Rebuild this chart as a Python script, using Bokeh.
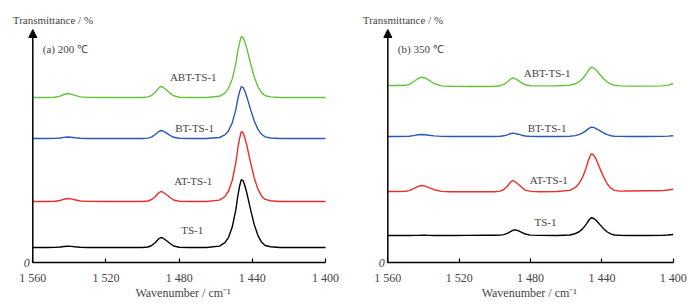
from bokeh.plotting import figure
from bokeh.layouts import row
from bokeh.models import Range1d, FixedTicker, Label, Arrow, NormalHead
from bokeh.embed import file_html
from bokeh.resources import INLINE

# ---------------- data (heights above the zero line, arbitrary units) -------------
X_L = [1560, 1552, 1548, 1545, 1543, 1541, 1539, 1537, 1534, 1530, 1520, 1510, 1500,
       1497, 1495, 1493, 1491, 1490, 1489, 1487, 1485, 1483, 1480, 1475, 1465, 1458,
       1455, 1453, 1451, 1449, 1448, 1447, 1446, 1445, 1444, 1443, 1441, 1439, 1437,
       1435, 1433, 1430, 1425, 1415, 1400]

ABT_200 = [165, 165, 165.2, 166.4, 168, 169, 168.4, 167.2, 165.6, 165.1, 165, 165, 165,
           165.6, 167.2, 170.5, 174.9, 176, 175.5, 172.7, 169.4, 166.7, 165.3, 165, 165, 166.2,
           169.3, 174.2, 183.3, 199.2, 210.8, 219.9, 226, 224.8, 219.9, 213.8, 199.2, 185.7, 176,
           169.9, 166.8, 165.6, 165, 165, 165]
BT_200 = [124, 124, 124.1, 124.5, 125.1, 125.5, 125.3, 124.8, 124.2, 124, 124, 124, 124,
          124.4, 125.6, 128, 131.2, 132, 131.6, 129.6, 127.2, 125.2, 124.2, 124, 124, 125,
          127.6, 131.8, 139.6, 153.1, 163, 170.8, 176, 175, 170.8, 165.6, 153.1, 141.7, 133.4,
          128.2, 125.6, 124.5, 124, 124, 124]
AT_200 = [61, 61, 61.2, 62, 63.3, 64, 63.6, 62.7, 61.5, 61.1, 61, 61, 61,
          61.5, 63, 66, 70, 71, 70.5, 68, 65, 62.5, 61.3, 61, 61, 62.4,
          65.9, 71.5, 82, 100.2, 113.5, 124, 131, 129.6, 124, 117, 100.2, 84.8, 73.6,
          66.6, 63.1, 61.7, 61, 61, 61]
TS_200 = [15, 15, 15.1, 15.5, 16, 16.3, 16.1, 15.7, 15.2, 15, 15, 15, 15,
          15.5, 17, 20, 24, 25, 24.5, 22, 19, 16.5, 15.3, 15, 15, 16.4,
          19.8, 25.2, 35.4, 53.1, 66, 76.2, 83, 81.6, 76.2, 69.4, 53.1, 38.1, 27.2,
          20.4, 17, 15.7, 15, 15, 15]

X_R = [1560, 1555, 1550, 1548, 1545, 1543, 1541, 1539, 1537, 1534, 1530, 1525, 1515, 1505,
       1500, 1497, 1495, 1493, 1491, 1490, 1489, 1487, 1485, 1483, 1480, 1475, 1465, 1458,
       1455, 1453, 1451, 1449, 1448, 1447, 1446, 1445, 1444, 1443, 1441, 1439, 1437, 1435,
       1433, 1430, 1425, 1415, 1406, 1403, 1400]

ABT_350 = [177, 177, 177.2, 178.2, 181.5, 184, 185.3, 184.5, 182.3, 179, 176.6, 176.2, 176, 176,
           176.2, 176.8, 178.1, 180.5, 183.7, 184.5, 184.1, 182.1, 179.7, 177.7, 176.8, 176.6, 176.7, 177.3,
           178.7, 180.5, 183.5, 188, 190.9, 193.5, 195.3, 195, 193.8, 192.1, 187.8, 183.8, 180.5, 178.4,
           177.2, 176.6, 176.4, 176.4, 176.6, 177.4, 179]
BT_350 = [126, 126, 126.1, 126.3, 127.1, 127.7, 128, 127.8, 127.3, 126.6, 126.1, 126, 126, 126,
          126, 126.2, 126.7, 127.7, 129, 129.3, 129.1, 128.3, 127.3, 126.5, 126.1, 126, 126, 126.3,
          126.9, 127.9, 129.3, 131.6, 133.1, 134.4, 135.3, 135.1, 134.6, 133.7, 131.6, 129.5, 127.9, 126.8,
          126.3, 126.1, 126, 126, 126.1, 126.4, 126.8]
AT_350 = [71, 71, 71.2, 71.9, 74.3, 76.1, 77, 76.4, 74.9, 72.8, 71.1, 70.8, 70.7, 70.7,
          70.8, 71.4, 73, 76.3, 80.7, 81.8, 81.3, 78.5, 75.2, 72.4, 71.1, 70.8, 71, 72.1,
          74.8, 78.5, 84.6, 93.6, 99.7, 105, 108.7, 108, 105.7, 102.3, 93.6, 85.3, 78.5, 74.4,
          72.1, 71.4, 71.5, 71.7, 71.9, 72.5, 73.3]
TS_350 = [27, 27, 27, 27, 27.1, 27.1, 27.2, 27.2, 27.1, 27, 27, 27, 27.1, 27.2,
          27.2, 27.4, 27.9, 29.2, 31.1, 32.1, 32.7, 31.9, 30.2, 28.5, 27.4, 27.1, 27, 27.5,
          28.8, 30.5, 33.4, 37.6, 40.5, 43, 44.7, 44.3, 43.3, 41.7, 37.6, 33.7, 30.5, 28.6,
          27.5, 27.2, 27, 27, 27.1, 27.5, 28]

SAMPLES = ["ABT-TS-1", "BT-TS-1", "AT-TS-1", "TS-1"]
COLORS = ["#66c23c", "#2a58b8", "#ee2c2c", "#000000"]
TICKS = [1560, 1520, 1480, 1440, 1400]
TICK_LABELS = ["1 560", "1 520", "1 480", "1 440", "1 400"]
PANEL_TITLES = ["(a) 200 \u2103", "(b) 350 \u2103"]
Y_LABEL = "Transmittance / %"
X_LABEL = "Wavenumber / cm\u207b\u00b9"

FONT = "Liberation Serif"


def make_panel(xs, series, title, label_pos, x_range, ylab_off, xlab_x):
    # the frame fills the whole canvas; 1 y unit = 1 px, axis at y = 0
    p = figure(width=347, height=304, output_backend="svg", toolbar_location=None,
               x_range=Range1d(*x_range), y_range=Range1d(-42, 262),
               min_border=0, min_border_left=0, min_border_right=0,
               min_border_top=0, min_border_bottom=0)
    p.outline_line_color = None
    p.grid.visible = False

    for ys, c in zip(series, COLORS):
        p.line(xs, ys, line_color=c, line_width=1.4)

    xa = p.xaxis[0]
    xa.fixed_location = 0
    xa.bounds = (1400, 1560)
    xa.ticker = FixedTicker(ticks=TICKS)
    xa.major_label_overrides = {t: l for t, l in zip(TICKS, TICK_LABELS)}
    xa.major_tick_in = 4
    xa.major_tick_out = 0
    xa.minor_tick_line_color = None
    xa.axis_line_width = 1.5
    xa.major_tick_line_width = 1.2
    xa.major_label_standoff = 8
    xa.major_label_text_font = FONT
    xa.major_label_text_font_size = "12px"

    ya = p.yaxis[0]
    ya.fixed_location = 1560
    ya.ticker = FixedTicker(ticks=[0])
    ya.major_label_overrides = {0: "0"}
    ya.major_tick_in = 0
    ya.major_tick_out = 0
    ya.minor_tick_line_color = None
    ya.axis_line_color = None
    ya.major_label_standoff = 3
    ya.major_label_text_font = FONT
    ya.major_label_text_font_size = "12px"
    ya.major_label_text_font_style = "italic"

    p.add_layout(Arrow(x_start=1560, y_start=0, x_end=1560, y_end=233,
                       line_width=1.5, line_color="black",
                       end=NormalHead(size=8, fill_color="black", line_color="black", line_width=1)))

    p.add_layout(Label(x=xlab_x, y=-30.7, text=X_LABEL, text_align="center",
                       text_baseline="middle", text_font=FONT, text_font_size="12px"))
    p.add_layout(Label(x=1560, y=243, text=Y_LABEL, x_offset=ylab_off,
                       text_font=FONT, text_font_size="11px", text_baseline="middle"))
    p.add_layout(Label(x=1560, y=214, text=title, x_offset=10,
                       text_font=FONT, text_font_size="11px", text_baseline="middle"))

    for name, (lx, ly) in zip(SAMPLES, label_pos):
        p.add_layout(Label(x=lx, y=ly, text=name, text_align="center", text_baseline="middle",
                           text_font=FONT, text_font_size="11px"))
    return p


p1 = make_panel(X_L, [ABT_200, BT_200, AT_200, TS_200], PANEL_TITLES[0],
                [(1472.3, 186), (1471.6, 134.3), (1472.3, 82), (1472.9, 33)],
                (1577.65, 1388.0), -20, 1477.9)
p2 = make_panel(X_R, [ABT_350, BT_350, AT_350, TS_350], PANEL_TITLES[1],
                [(1470.7, 190), (1470.7, 134.3), (1469.8, 82.7), (1471.6, 40.3)],
                (1582.6, 1388.1), -25, 1480.7)

layout = row(p1, p2)
open("out.html", "w").write(file_html(layout, INLINE))
